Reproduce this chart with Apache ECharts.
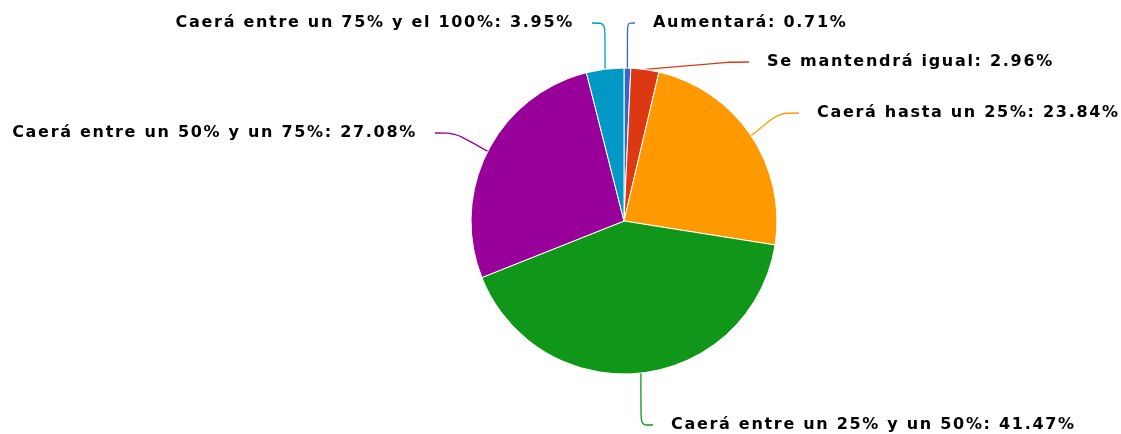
<!DOCTYPE html>
<html>
<head>
<meta charset="utf-8">
<script src="https://cdn.jsdelivr.net/npm/echarts@6/dist/echarts.min.js"></script>
<style>
html, body { margin: 0; padding: 0; background: #fff; }
#chart { width: 1121px; height: 434px; }
</style>
</head>
<body>
<div id="chart"></div>
<script>
var categories = [
  "Aumentará",
  "Se mantendrá igual",
  "Caerá hasta un 25%",
  "Caerá entre un 25% y un 50%",
  "Caerá entre un 50% y un 75%",
  "Caerá entre un 75% y el 100%"
];
var values = [0.71, 2.96, 23.84, 41.47, 27.08, 3.95];
var colors = ["#3366cc", "#dc3912", "#ff9900", "#109618", "#990099", "#0099c6"];

// where each label text sits
var labelPos = [
  { x: 653, y: 23, align: "left" },
  { x: 767, y: 62, align: "left" },
  { x: 817, y: 113, align: "left" },
  { x: 671, y: 425, align: "left" },
  { x: 417, y: 133, align: "right" },
  { x: 574, y: 23, align: "right" }
];
var gap = 18;

// the labels are drawn with a little letter spacing
var origFill = CanvasRenderingContext2D.prototype.fillText;
CanvasRenderingContext2D.prototype.fillText = function () {
  this.letterSpacing = "1.7px";
  return origFill.apply(this, arguments);
};
var origMeasure = CanvasRenderingContext2D.prototype.measureText;
CanvasRenderingContext2D.prototype.measureText = function () {
  this.letterSpacing = "1.7px";
  return origMeasure.apply(this, arguments);
};

var chart = echarts.init(document.getElementById("chart"));
chart.setOption({
  animation: false,
  color: colors,
  series: [
    {
      type: "pie",
      center: [624, 221],
      radius: 153,
      startAngle: 90,
      data: categories.map(function (c, i) {
        return { name: c, value: values[i] };
      }),
      itemStyle: { borderColor: "#fff", borderWidth: 1 },
      label: {
        formatter: function (p) {
          return p.name + ": " + p.value.toFixed(2) + "%";
        },
        fontFamily: "DejaVu Sans",
        fontWeight: "bold",
        fontSize: 16,
        color: "#000",
        overflow: "none",
        padding: [0, gap],
        backgroundColor: "rgba(255,255,255,0)"
      },
      labelLine: { show: true, smooth: 0.3, length: 20, length2: 20, lineStyle: { width: 1.3 } },
      labelLayout: function (p) {
        var pos = labelPos[p.dataIndex];
        var x = pos.align === "left" ? pos.x - gap : pos.x + gap;
        return { x: x, y: pos.y, align: pos.align, verticalAlign: "middle" };
      }
    }
  ]
});
</script>
</body>
</html>
